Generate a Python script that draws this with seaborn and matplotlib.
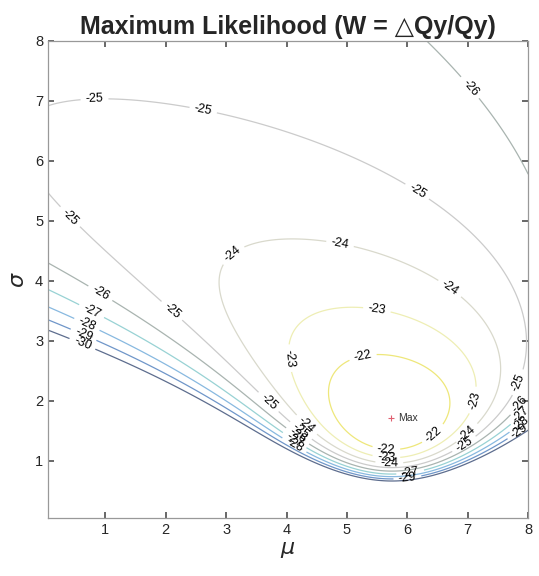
import math
import numpy as np
import matplotlib
matplotlib.use("Agg")
import matplotlib.pyplot as plt
import seaborn as sns

# observed ratios W = dQy/Qy, their measurement error and the Qy values
W = np.array([2.5, 3.9, 4.7, 5.3, 5.8, 6.4, 7.0, 7.6, 8.5])
W_err = np.array([0.5, 0.5, 0.5, 0.5, 0.5, 0.5, 0.5, 0.5, 0.5])
Qy = np.array([1.18, 1.29, 1.39, 1.34, 1.50, 1.44, 1.29, 1.39, 1.71])
W_lo, W_hi = 0.45, 15.0

levels = [-30, -29, -28, -27, -26, -25, -24, -23, -22]
level_colors = ["#5d6d8e", "#6f96c9", "#88b9e0", "#98d2d4", "#a9b4b0",
                "#cbcbcb", "#d9d9cc", "#eeeeb4", "#eee77a"]
ticks = [1, 2, 3, 4, 5, 6, 7, 8]

# where the contour labels sit (mu, sigma)
label_pts = [
    (0.62, 2.95), (0.66, 3.15), (0.72, 3.33), (0.8, 3.55), (0.95, 3.85),
    (0.57, 5.22), (0.82, 7.05), (2.65, 7.0), (2.1, 3.5), (6.2, 5.55),
    (3.1, 4.45), (4.9, 4.7), (6.65, 3.8),
    (5.5, 3.55), (3.95, 2.7), (6.95, 2.05),
    (5.25, 2.8), (6.4, 1.48),
    (7.6, 7.7), (7.85, 2.3), (7.85, 1.95), (7.85, 1.8), (7.85, 1.65), (7.85, 1.5),
    (4.35, 1.62), (4.25, 1.52), (4.2, 1.44), (4.15, 1.37), (4.15, 1.3),
    (3.7, 1.98), (6.95, 1.26), (7.0, 1.45),
    (5.65, 1.2), (5.65, 1.05), (5.7, 0.95), (6.05, 0.78), (6.0, 0.72),
]

sqrt2 = math.sqrt(2.0)
Phi = np.vectorize(lambda z: 0.5 * (1.0 + math.erf(z / sqrt2)))

mu = np.linspace(0.05, 8, 260)
sig = np.linspace(0.05, 8, 260)
M, S = np.meshgrid(mu, sig)

LL = np.zeros_like(M)
for w, e in zip(W, W_err):
    s = np.sqrt(S ** 2 + e ** 2)
    norm = Phi((W_hi - M) / s) - Phi((W_lo - M) / s)
    LL += -0.5 * np.log(2 * np.pi) - np.log(s) - (w - M) ** 2 / (2 * s ** 2) - np.log(norm)
LL -= np.log(Qy).sum()

imax = np.unravel_index(np.argmax(LL), LL.shape)

sns.set_theme(style="white")
plt.rcParams["font.family"] = ["Liberation Sans", "DejaVu Sans"]

fig = plt.figure(figsize=(5.39, 5.76), dpi=100)
ax = fig.add_axes([0.089, 0.101, 0.891, 0.828])

cs = ax.contour(M, S, LL, levels=levels, colors=level_colors, linewidths=0.9)
ax.clabel(cs, manual=label_pts, inline=True, fmt="%d", fontsize=9, colors="black")

ax.plot(M[imax], S[imax], "+", color="#e06070", ms=5, mew=0.8)
ax.text(M[imax] + 0.12, S[imax], "Max", fontsize=7.5, va="center", color="#333333")

ax.set_xlim(0.05, 8)
ax.set_ylim(0.05, 8)
ax.set_xticks(ticks)
ax.set_yticks(ticks)
ax.tick_params(direction="in", length=4, colors="#555555", labelcolor="#262626",
               labelsize=10.5, top=True, right=True, bottom=True, left=True)
for sp in ax.spines.values():
    sp.set_color("#999999")
    sp.set_linewidth(0.9)

ax.set_xlabel(r"$\mu$", fontsize=16, color="#262626", labelpad=2)
ax.set_ylabel(r"$\sigma$", fontsize=16, color="#262626", labelpad=4)
ax.set_title("Maximum Likelihood (W = \u25b3Qy/Qy)", fontsize=18,
             fontweight="bold", pad=5)

fig.savefig("out.png", dpi=100)
